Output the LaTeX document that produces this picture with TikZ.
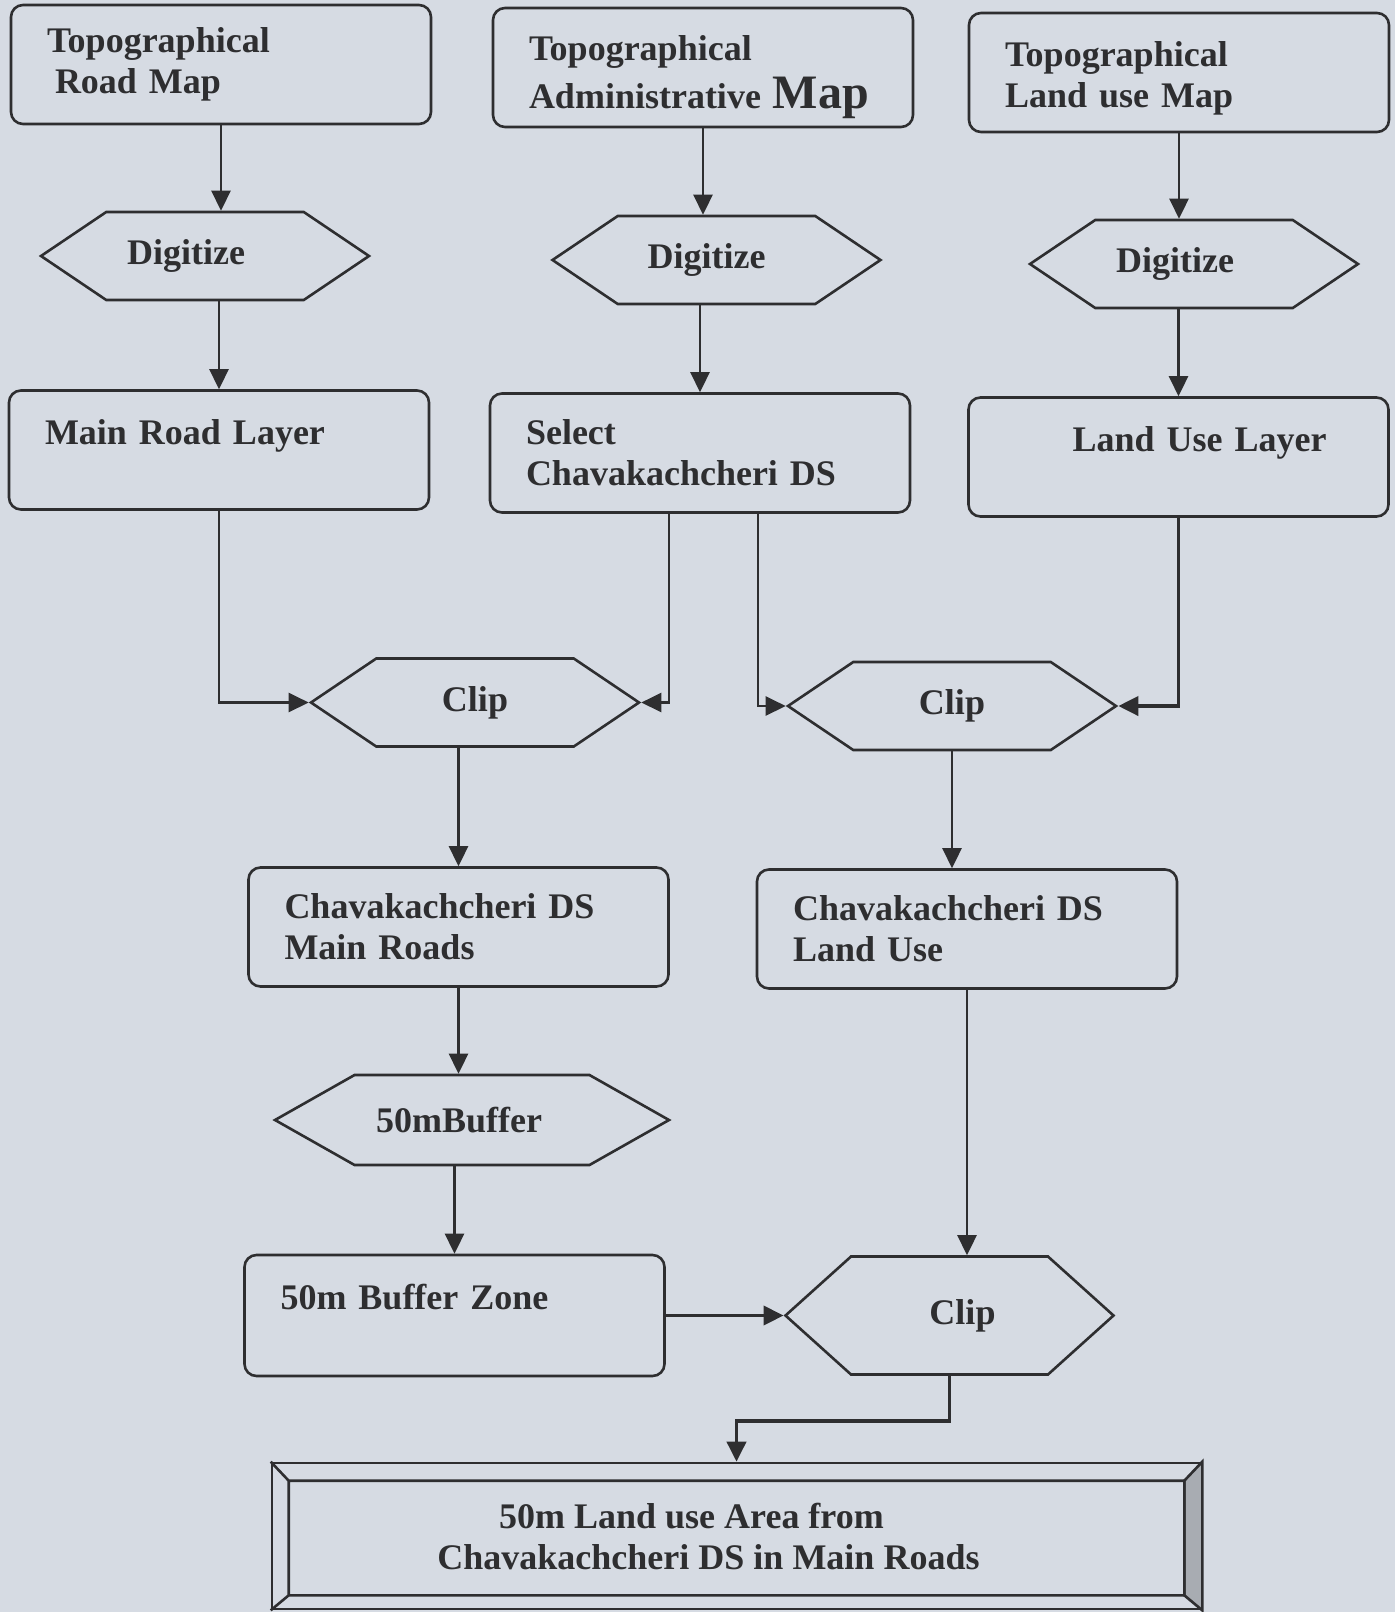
\documentclass[tikz,border=0pt]{standalone}
\usepackage{fontspec}
\setmainfont{Liberation Serif}
\usetikzlibrary{arrows.meta,shapes.symbols}
\definecolor{paper}{HTML}{D6DBE3}
\definecolor{ink}{HTML}{2E2E30}
\definecolor{bevel}{HTML}{A8ACB2}
\tikzset{
    every node/.style={font=\fontsize{18}{20.5}\selectfont\bfseries,text=ink},
    mapbox/.style={rounded corners=6pt,draw=ink,line width=1.3pt,align=left,
        minimum width=210pt,minimum height=59.5pt,text width=174pt,inner xsep=18pt,inner ysep=0pt},
    oneline/.style={text height=12pt,text depth=18pt},
    hexa/.style={signal,signal to=east and west,draw=ink,line width=1.3pt,
        minimum width=164pt,minimum height=44pt,signal pointer angle=68,inner sep=0pt},
    framebox/.style={draw=ink,line width=1.3pt,align=center,minimum width=464.5pt,minimum height=73pt},
    flow/.style={draw=ink,line width=1.3pt,-{Triangle[length=10pt,width=9.5pt]}},
    heavy/.style={line width=1.9pt}
}
\begin{document}
\begin{tikzpicture}[x=0.5pt,y=-0.5pt]
\path[fill=paper,use as bounding box] (0,0) rectangle (1395,1612);
% source maps
\node[mapbox] (roadmap) at (221,64.5) {Topographical\\\hspace*{4pt}Road Map};
\node[mapbox,text height=22pt] (admmap) at (703,67.5) {Topographical\\[3.5pt]Administrative {\fontsize{24}{24}\selectfont Map}};
\node[mapbox,text height=18pt] (lumap) at (1179,72.5) {Topographical\\Land use Map};
% digitizing
\foreach \n/\x/\y/\s in {dig1/205/256/19,dig2/716.5/260/10,dig3/1194/264/19}{
    \node[hexa] (\n) at (\x,\y) {Digitize\hspace*{\s pt}};
}
% layers
\node[mapbox,oneline] (roadlayer) at (219,450) {Main Road Layer};
\node[mapbox] (select) at (700,453) {Select\\Chavakachcheri DS};
\node[mapbox,oneline] (lulayer) at (1178.5,457) {\hspace*{34pt}Land Use Layer};
% clipping
\node[hexa] (clip1) at (475,702.5) {Clip};
\node[hexa] (clip2) at (952,706) {Clip};
\node[mapbox] (dsroads) at (458.5,927) {Chavakachcheri DS\\Main Roads};
\node[mapbox] (dslu) at (967,929) {Chavakachcheri DS\\Land Use};
\node[hexa,minimum width=197pt,minimum height=45pt,signal pointer angle=59] (buffer) at (472,1120) {50mBuffer\hspace*{13pt}};
\node[mapbox,oneline,minimum height=60.5pt] (zone) at (454.5,1315.5) {50m Buffer Zone};
\node[hexa,minimum height=59pt,signal pointer angle=84] (clip3) at (949.5,1315.5) {\hspace*{13pt}Clip};
% result
\node[framebox] (result) at (736.5,1536) {50m Land use Area from\hspace*{45pt}\\Chavakachcheri DS in Main Roads\hspace*{28pt}};
\coordinate (in-nw) at ([shift={(9pt,-9.5pt)}]result.north west);
\coordinate (in-se) at ([shift={(-9pt,7.5pt)}]result.south east);
\draw[line width=1.3pt,draw=ink,fill=bevel] (result.north east) -- (result.south east) -- (in-se) -- (in-se |- in-nw) -- cycle;
\draw[line width=1.3pt,draw=ink] (in-nw) rectangle (in-se)
    (result.north west) -- (in-nw) (result.south west) -- (in-nw |- in-se);
% arrows
\foreach \a/\d/\b in {roadmap/dig1/roadlayer,admmap/dig2/select,lumap/dig3/lulayer}{
    \draw[flow] (\a.south) -- (\a.south |- \d.north);
    \draw[flow] (\b.north |- \d.south) -- (\b.north);
}
\draw[flow] (roadlayer.south) |- (clip1.west);
\draw[flow] ([xshift=-15.5pt]select.south) |- (clip1.east);
\draw[flow] ([xshift=29pt]select.south) |- (clip2.west);
\draw[flow,heavy] (lulayer.south) |- (clip2.east);
\draw[flow] (dsroads.north |- clip1.south) -- (dsroads.north);
\draw[flow] (clip2.south) -- (clip2.south |- dslu.north);
\draw[flow] (dsroads.south) -- (dsroads.south |- buffer.north);
\draw[flow] (zone.north |- buffer.south) -- (zone.north);
\draw[flow] (dslu.south) -- (dslu.south |- clip3.north);
\draw[flow,heavy] (zone.east) -- (clip3.west);
\draw[flow,heavy] (clip3.south) -- ++(0,45) -| (result.north);
\end{tikzpicture}
\end{document}
